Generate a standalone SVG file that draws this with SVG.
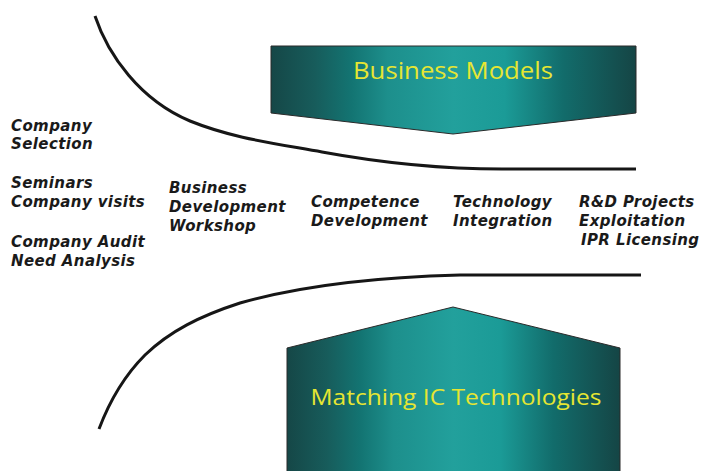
<svg xmlns="http://www.w3.org/2000/svg" width="702" height="471" viewBox="0 0 702 471">
  <defs>
    <linearGradient id="teal" x1="0" y1="0" x2="1" y2="0">
      <stop offset="0" stop-color="#154747"/>
      <stop offset="0.12" stop-color="#175c5b"/>
      <stop offset="0.22" stop-color="#137472"/>
      <stop offset="0.32" stop-color="#1d8f8c"/>
      <stop offset="0.5" stop-color="#22a09c"/>
      <stop offset="0.64" stop-color="#1b9b97"/>
      <stop offset="0.8" stop-color="#126c6b"/>
      <stop offset="1" stop-color="#154545"/>
    </linearGradient>
    <style>
      .shape { fill: url(#teal); stroke: #2a2a2a; stroke-width: 1; }
      .title { font-family: "Open Sans", "DejaVu Sans", sans-serif; fill: #e6e632; text-anchor: middle; }
      .lbl { font-family: "DejaVu Sans", Verdana, sans-serif; font-weight: bold; font-style: italic; font-size: 15px; letter-spacing: 0.4px; fill: #1a1a1a; }
      .curve { fill: none; stroke: #161616; stroke-width: 3; stroke-linecap: butt; }
    </style>
  </defs>

  <rect width="702" height="471" fill="#ffffff"/>

  <!-- boundary curves -->
  <g id="connectors">
    <path class="curve" d="M95,16 C108,55 140,100 190,121 C232,138 272,143 322,152 C382,163 442,169 502,169 L636,169"/>
    <path class="curve" d="M99,429 C110,400 125,375 145,355 C170,331 200,316 240,303 C300,286 380,277 460,275 L641,275"/>
  </g>

  <!-- downward arrow block -->
  <g id="business-models">
    <polygon class="shape" points="271,46 636,46 636,113 453,134 271,113"/>
    <text class="title" x="453" y="79" font-size="24" textLength="200" lengthAdjust="spacingAndGlyphs">Business Models</text>
  </g>

  <!-- upward arrow block -->
  <g id="matching-ic">
    <polygon class="shape" points="287,348 453,307 620,348 620,472 287,472"/>
    <text class="title" x="456" y="405" font-size="22" textLength="291" lengthAdjust="spacingAndGlyphs">Matching IC Technologies</text>
  </g>

  <!-- activity labels -->
  <g id="company-selection">
    <text class="lbl" x="11" y="131">Company</text>
    <text class="lbl" x="11" y="149">Selection</text>
  </g>
  <g id="seminars">
    <text class="lbl" x="11" y="188">Seminars</text>
    <text class="lbl" x="11" y="207">Company visits</text>
  </g>
  <g id="company-audit">
    <text class="lbl" x="11" y="247">Company Audit</text>
    <text class="lbl" x="11" y="266">Need Analysis</text>
  </g>
  <g id="bd-workshop">
    <text class="lbl" x="169" y="193">Business</text>
    <text class="lbl" x="169" y="212">Development</text>
    <text class="lbl" x="169" y="231">Workshop</text>
  </g>
  <g id="competence">
    <text class="lbl" x="311" y="207">Competence</text>
    <text class="lbl" x="311" y="226">Development</text>
  </g>
  <g id="tech-integration">
    <text class="lbl" x="453" y="207">Technology</text>
    <text class="lbl" x="453" y="226">Integration</text>
  </g>
  <g id="rd-projects">
    <text class="lbl" x="579" y="207">R&amp;D Projects</text>
    <text class="lbl" x="579" y="226">Exploitation</text>
    <text class="lbl" x="581" y="245">IPR Licensing</text>
  </g>
</svg>
